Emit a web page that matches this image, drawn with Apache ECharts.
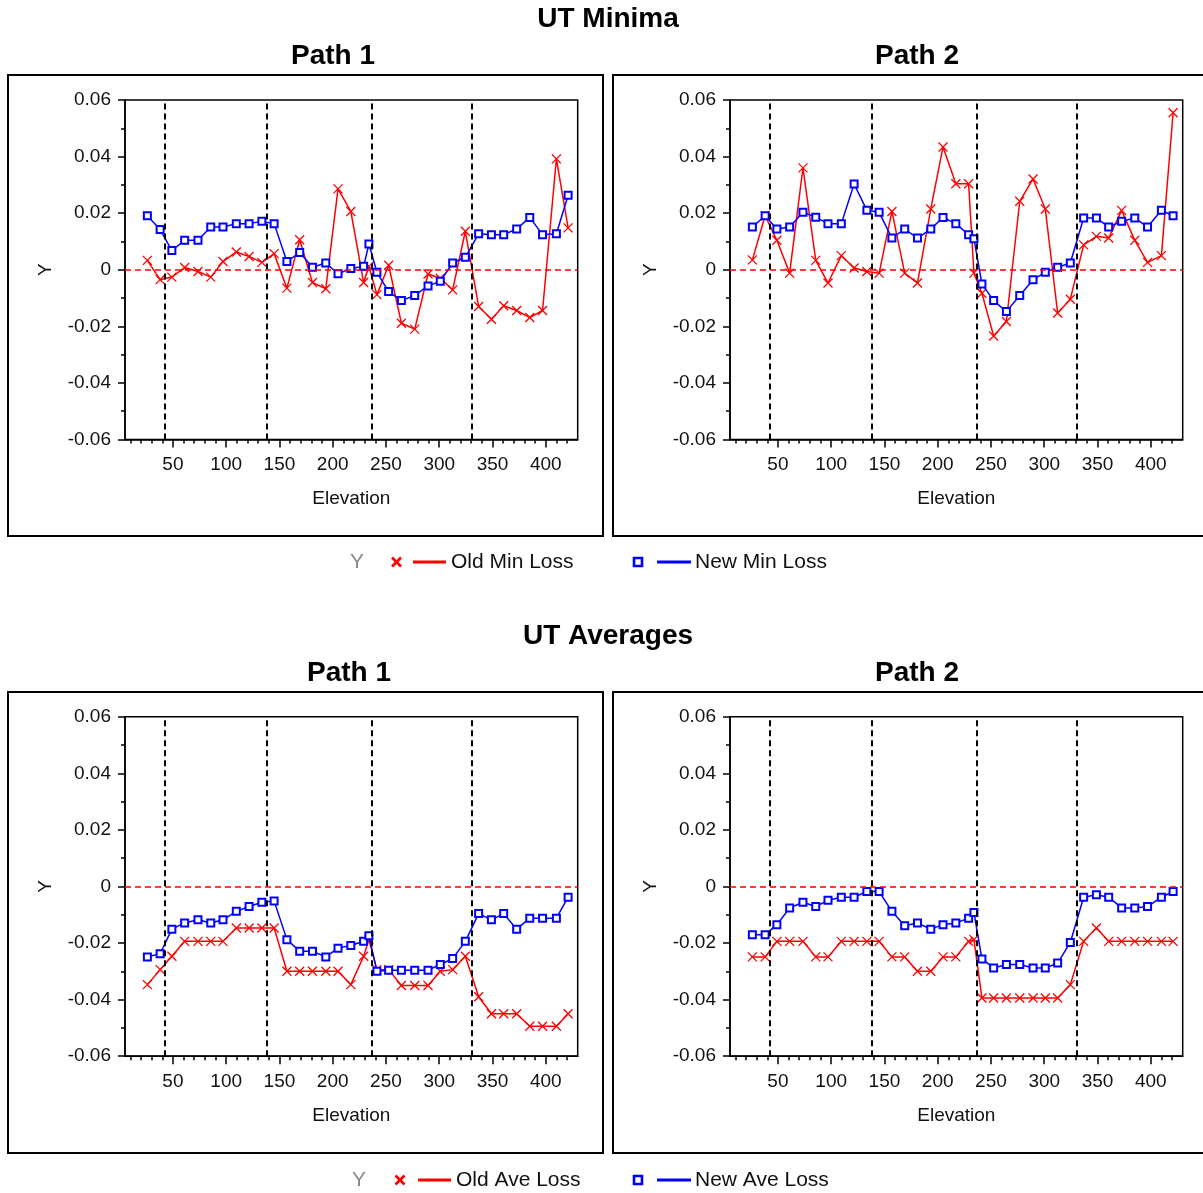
<!DOCTYPE html>
<html><head><meta charset="utf-8">
<script src="https://cdn.jsdelivr.net/npm/echarts@6/dist/echarts.min.js"></script>
<style>html,body{margin:0;padding:0;background:#fff}#c{width:1203px;height:1193px}</style>
</head><body><div id="c"></div>
<script>
// ---- data ----
const elevation = [26, 38, 49, 61, 73.5, 85.5, 97, 109.5, 121.5, 133.5, 145, 157, 169, 181, 193.5, 205, 217, 229, 234, 241.5, 252.5, 264.5, 277, 289.5, 301, 312.6, 324.5, 337, 349, 360.5, 372.7, 385, 397, 410, 421];

const oldMinPath1 = [0.0033, -0.0035, -0.0026, 0.0008, -0.0006, -0.0026, 0.0029, 0.0063, 0.0047, 0.0026, 0.0057, -0.0065, 0.0106, -0.0045, -0.0067, 0.0286, 0.0206, -0.0045, 0.0012, -0.0088, 0.0016, -0.0189, -0.021, -0.0015, -0.003, -0.0071, 0.0136, -0.013, -0.0175, -0.0127, -0.0144, -0.0169, -0.0144, 0.0392, 0.0148];
const newMinPath1 = [0.0191, 0.0142, 0.0068, 0.0104, 0.0104, 0.0151, 0.0151, 0.0163, 0.0163, 0.0171, 0.0163, 0.0029, 0.0061, 0.0009, 0.0024, -0.0014, 0.0004, 0.0012, 0.0091, -0.0009, -0.0077, -0.0109, -0.0091, -0.0057, -0.0041, 0.0024, 0.0044, 0.0127, 0.0124, 0.0124, 0.0144, 0.0185, 0.0124, 0.0127, 0.0263];

const oldMinPath2 = [0.0035, 0.0191, 0.0104, -0.0012, 0.036, 0.0033, -0.0047, 0.005, 0.0006, -0.0006, -0.0012, 0.0206, -0.0012, -0.0047, 0.0215, 0.0434, 0.0304, 0.0304, -0.0012, -0.0083, -0.0234, -0.0183, 0.0242, 0.0321, 0.0215, -0.0153, -0.0104, 0.0088, 0.0118, 0.0112, 0.021, 0.0104, 0.0026, 0.005, 0.0555];
const newMinPath2 = [0.0151, 0.0191, 0.0144, 0.0151, 0.0203, 0.0186, 0.0163, 0.0163, 0.0303, 0.021, 0.0203, 0.0112, 0.0144, 0.0112, 0.0144, 0.0185, 0.0163, 0.0124, 0.011, -0.005, -0.0109, -0.0148, -0.0091, -0.0035, -0.0009, 0.0009, 0.0024, 0.0183, 0.0183, 0.0151, 0.0171, 0.0183, 0.0151, 0.021, 0.0191];

const oldAvePath1 = [-0.0347, -0.0294, -0.0247, -0.0194, -0.0194, -0.0194, -0.0194, -0.0147, -0.0147, -0.0147, -0.0147, -0.03, -0.03, -0.03, -0.03, -0.03, -0.0347, -0.0247, -0.0188, -0.0294, -0.0294, -0.035, -0.035, -0.035, -0.03, -0.0294, -0.0247, -0.039, -0.045, -0.045, -0.045, -0.0494, -0.0494, -0.0494, -0.045];
const newAvePath1 = [-0.0249, -0.0238, -0.0151, -0.0129, -0.0118, -0.0129, -0.0118, -0.0088, -0.0071, -0.0056, -0.0051, -0.0188, -0.0229, -0.0229, -0.0249, -0.0218, -0.0209, -0.0194, -0.0174, -0.03, -0.0296, -0.0296, -0.0296, -0.0296, -0.0276, -0.0255, -0.0194, -0.0096, -0.0118, -0.0096, -0.0151, -0.0112, -0.0112, -0.0112, -0.0038];

const oldAvePath2 = [-0.0249, -0.0249, -0.0194, -0.0194, -0.0194, -0.0249, -0.0249, -0.0194, -0.0194, -0.0194, -0.0194, -0.0249, -0.0249, -0.03, -0.03, -0.0249, -0.0249, -0.0194, -0.0188, -0.0394, -0.0394, -0.0394, -0.0394, -0.0394, -0.0394, -0.0394, -0.0347, -0.0194, -0.0147, -0.0194, -0.0194, -0.0194, -0.0194, -0.0194, -0.0194];
const newAvePath2 = [-0.0171, -0.0171, -0.0135, -0.0076, -0.0056, -0.0071, -0.0049, -0.0038, -0.0038, -0.0018, -0.0018, -0.0088, -0.0139, -0.0129, -0.0151, -0.0135, -0.0129, -0.0112, -0.0092, -0.0256, -0.0288, -0.0276, -0.0276, -0.0288, -0.0288, -0.0271, -0.0198, -0.0038, -0.0029, -0.0038, -0.0076, -0.0076, -0.0071, -0.0038, -0.0018];

const zoneBoundaries = [42.2, 137.8, 237, 331];
const xTickLabels = [50, 100, 150, 200, 250, 300, 350, 400];
const xMinorTicks = [10, 20, 30, 40, 50, 60, 70, 80, 90, 100, 110, 120, 130, 140, 150, 160, 170, 180, 190, 200, 210, 220, 230, 240, 250, 260, 270, 280, 290, 300, 310, 320, 330, 340, 350, 360, 370, 380, 390, 400, 410, 420];
const groupTitles = ['UT Minima', 'UT Averages'];
const panelTitles = ['Path 1', 'Path 2'];
const legendNames = [['Old Min Loss', 'New Min Loss'], ['Old Ave Loss', 'New Ave Loss']];

// ---- chart ----
const FONT = '"Liberation Sans", Arial, sans-serif';
const chart = echarts.init(document.getElementById('c'), null, {renderer: 'canvas'});
const panels = [
  {left: 125, top: 100, oldV: oldMinPath1, newV: newMinPath1},
  {left: 730, top: 100, oldV: oldMinPath2, newV: newMinPath2},
  {left: 125, top: 716.7, oldV: oldAvePath1, newV: newAvePath1},
  {left: 730, top: 716.7, oldV: oldAvePath2, newV: newAvePath2}
];
const W = 452.7, H = 339.5;
const grid = [], xAxis = [], yAxis = [], series = [];
const axisLineStyle = {color: '#000', width: 1.5};
const xPath = 'path://M0,0L10,10M0,10L10,0';

panels.forEach((p, i) => {
  grid.push({left: p.left, top: p.top, width: W, height: H, show: true, borderColor: '#000', borderWidth: 1.5, backgroundColor: 'transparent'});
  xAxis.push({
    gridIndex: i, type: 'value', min: 5, max: 430, position: 'bottom',
    name: 'Elevation', nameLocation: 'middle', nameGap: 50,
    nameTextStyle: {fontSize: 19, color: '#111', fontFamily: FONT},
    axisLine: {show: true, onZero: false, lineStyle: axisLineStyle},
    axisTick: {show: true, customValues: xMinorTicks, length: 4, lineStyle: axisLineStyle},
    axisLabel: {show: true, customValues: xTickLabels, margin: 16, fontSize: 19, color: '#111', fontFamily: FONT},
    splitLine: {show: false}
  });
  xAxis.push({
    gridIndex: i, type: 'value', min: 5, max: 430, position: 'bottom',
    axisLine: {show: false, onZero: false},
    axisTick: {show: true, customValues: xTickLabels, length: 8, lineStyle: axisLineStyle},
    axisLabel: {show: false},
    splitLine: {show: false}
  });
  yAxis.push({
    gridIndex: i, type: 'value', min: -0.06, max: 0.06, interval: 0.02,
    name: 'Y', nameLocation: 'middle', nameRotate: 90, nameGap: 70,
    nameTextStyle: {fontSize: 19, color: '#111', fontFamily: FONT},
    axisLine: {show: true, onZero: false, lineStyle: axisLineStyle},
    axisTick: {show: true, length: 7, lineStyle: axisLineStyle},
    minorTick: {show: true, splitNumber: 2, length: 4, lineStyle: axisLineStyle},
    axisLabel: {margin: 14, fontSize: 19, color: '#111', fontFamily: FONT,
      formatter: v => Math.abs(v) < 1e-9 ? '0' : v.toFixed(2)},
    splitLine: {show: false}, minorSplitLine: {show: false}
  });
  const ml = zoneBoundaries.map(b => ({xAxis: b, lineStyle: {color: '#000', type: [6, 4], width: 2}}));
  ml.push({yAxis: 0, lineStyle: {color: '#ff0000', type: [6, 4], width: 1.5}});
  series.push({
    type: 'line', xAxisIndex: 2 * i, yAxisIndex: i, data: [], z: 1, silent: true,
    markLine: {silent: true, symbol: ['none', 'none'], label: {show: false}, animation: false, data: ml}
  });
  series.push({
    type: 'line', xAxisIndex: 2 * i, yAxisIndex: i, z: 3,
    data: elevation.map((x, k) => [x, p.oldV[k]]),
    showSymbol: true, showAllSymbol: true,
    symbol: xPath, symbolSize: 9,
    itemStyle: {color: '#ff0000', borderColor: '#ff0000', borderWidth: 1.3},
    lineStyle: {color: '#ff0000', width: 1.5}
  });
  series.push({
    type: 'line', xAxisIndex: 2 * i, yAxisIndex: i, z: 4,
    data: elevation.map((x, k) => [x, p.newV[k]]),
    showSymbol: true, showAllSymbol: true,
    symbol: 'rect', symbolSize: 7,
    itemStyle: {color: '#ffffff', borderColor: '#0000ff', borderWidth: 2},
    lineStyle: {color: '#0000ff', width: 1.5}
  });
});

// panel boxes, titles, legends
const graphic = [];
const boxes = [[8, 75, 595, 461], [613, 75, 605, 461], [8, 692, 595, 461], [613, 692, 605, 461]];
boxes.forEach(b => graphic.push({type: 'rect', shape: {x: b[0], y: b[1], width: b[2], height: b[3]}, style: {fill: 'none', stroke: '#000', lineWidth: 2}, silent: true}));
const titleStyle = t => ({text: t, fontSize: 28, fontWeight: 'bold', fontFamily: FONT, fill: '#000', align: 'center', verticalAlign: 'middle'});
graphic.push({type: 'text', x: 608, y: 19, style: titleStyle(groupTitles[0])});
graphic.push({type: 'text', x: 333, y: 56, style: titleStyle(panelTitles[0])});
graphic.push({type: 'text', x: 917, y: 56, style: titleStyle(panelTitles[1])});
graphic.push({type: 'text', x: 608, y: 636, style: titleStyle(groupTitles[1])});
graphic.push({type: 'text', x: 349, y: 673, style: titleStyle(panelTitles[0])});
graphic.push({type: 'text', x: 917, y: 673, style: titleStyle(panelTitles[1])});

function legend(yc, names, yx, xx, l1, t1) {
  const ts = (t, x, c) => ({type: 'text', x: x, y: yc, style: {text: t, fontSize: 21, fontFamily: FONT, fill: c, align: 'left', verticalAlign: 'middle'}});
  graphic.push(ts('Y', yx, '#888'));
  graphic.push({type: 'polyline', shape: {points: [[xx - 4.5, yc - 4.5], [xx + 4.5, yc + 4.5]]}, style: {stroke: '#ff0000', lineWidth: 2.6}});
  graphic.push({type: 'polyline', shape: {points: [[xx - 4.5, yc + 4.5], [xx + 4.5, yc - 4.5]]}, style: {stroke: '#ff0000', lineWidth: 2.6}});
  graphic.push({type: 'line', shape: {x1: l1, y1: yc, x2: l1 + 33, y2: yc}, style: {stroke: '#ff0000', lineWidth: 3}});
  graphic.push(ts(names[0], t1, '#111'));
  graphic.push({type: 'rect', shape: {x: 634, y: yc - 4, width: 8, height: 8}, style: {fill: '#fff', stroke: '#0000ff', lineWidth: 2.6}});
  graphic.push({type: 'line', shape: {x1: 657, y1: yc, x2: 691, y2: yc}, style: {stroke: '#0000ff', lineWidth: 3}});
  graphic.push(ts(names[1], 695, '#111'));
}
legend(562, legendNames[0], 350, 396.5, 413, 451);
legend(1180, legendNames[1], 352, 400, 418, 456);

chart.setOption({
  animation: false,
  backgroundColor: '#fff',
  textStyle: {fontFamily: FONT},
  grid, xAxis, yAxis, series, graphic
});
</script></body></html>
